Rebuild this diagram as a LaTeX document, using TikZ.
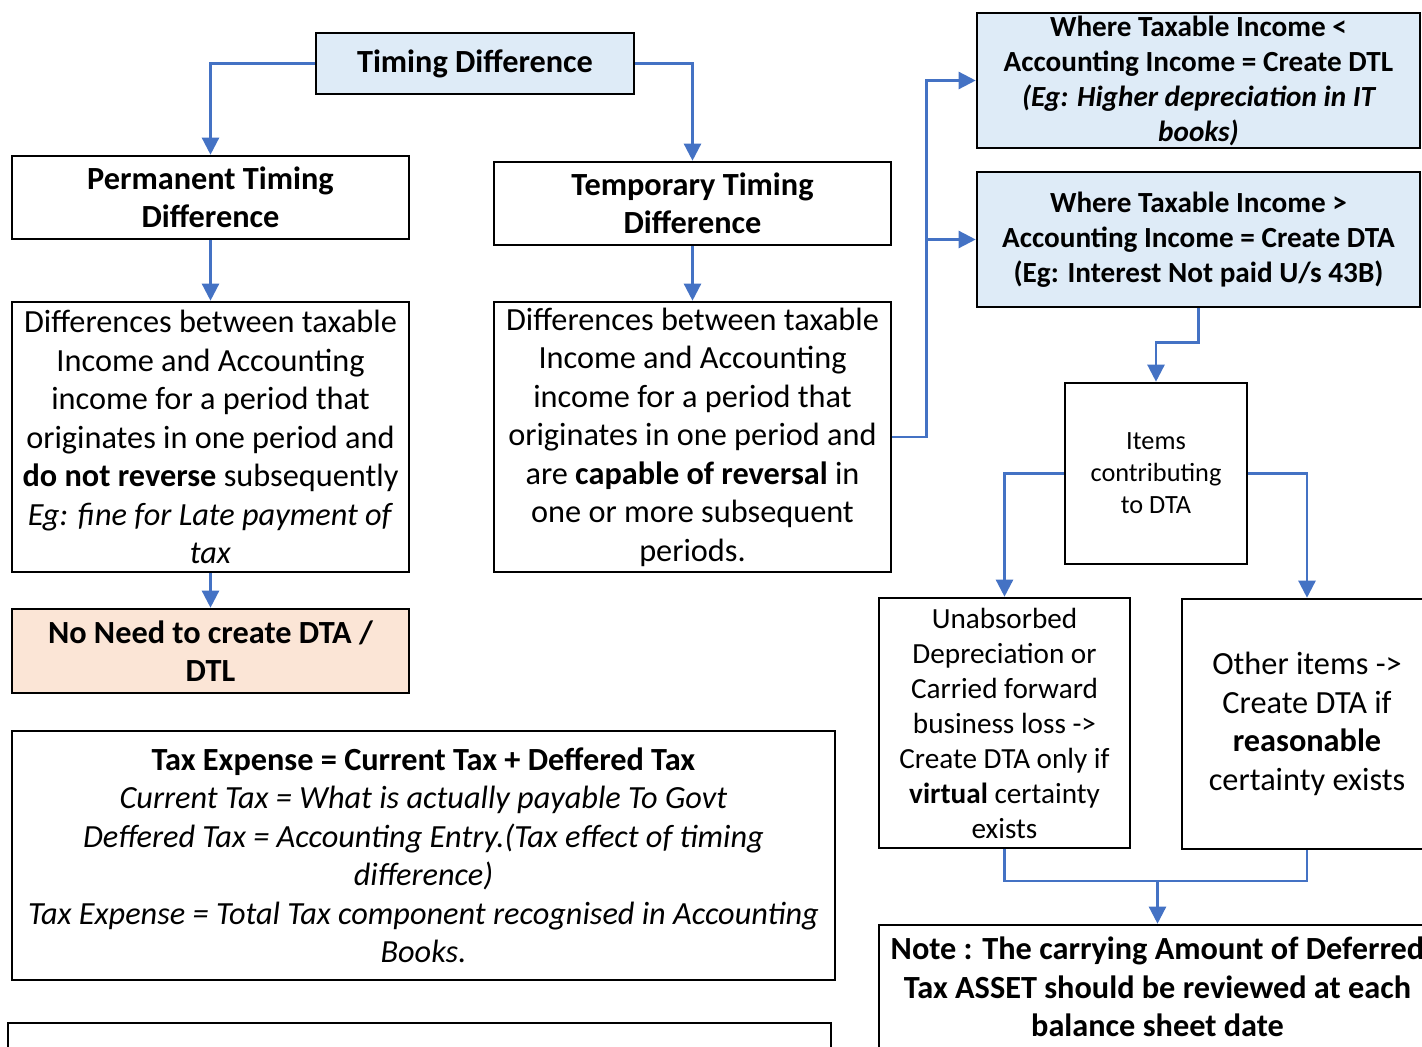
\documentclass[tikz,border=0pt]{standalone}
\usepackage{fontspec}
\setmainfont{Carlito}
\usetikzlibrary{arrows.meta}
\definecolor{linkblue}{HTML}{4472C4}
\definecolor{paleblue}{HTML}{DEEBF7}
\definecolor{peach}{HTML}{FBE5D6}
\tikzset{
  box/.style={draw=black, line width=2.6pt, align=center, inner sep=0pt, rectangle},
  txtL/.style={font=\fontsize{32.3}{38.5}\selectfont},
  txtM/.style={font=\fontsize{29.2}{35}\selectfont},
  txtS/.style={font=\fontsize{26.3}{32}\selectfont},
  wire/.style={draw=linkblue, line width=2.4pt},
  conn/.style={wire, -{Triangle[width=17pt,length=17pt]}},
}
\begin{document}
\begin{tikzpicture}[x=1pt,y=-1pt]
\useasboundingbox (0,0) rectangle (1422,1047);
\clip (0,0) rectangle (1422,1047);

% left column
\node[box, fill=paleblue, txtL, minimum width=318pt, minimum height=61pt] (td) at (475,63.5) {\bfseries Timing Difference};
\node[box, txtL, minimum width=397pt, minimum height=83pt] (perm) at (210.5,197.5) {\bfseries Permanent Timing\\\bfseries Difference};
\node[box, txtL, minimum width=397pt, minimum height=83pt] (temp) at (692.5,203.5) {\bfseries Temporary Timing\\\bfseries Difference};
\node[box, txtL, minimum width=397pt, minimum height=270pt] (permd) at (210.5,437) {Differences between taxable\\Income and Accounting\\income for a period that\\originates in one period and\\\textbf{do not reverse} subsequently\\\textit{Eg: fine for Late payment of}\\\textit{tax}};
\node[box, txtL, minimum width=397pt, minimum height=270pt] (tempd) at (692.5,437) {Differences between taxable\\Income and Accounting\\income for a period that\\originates in one period and\\are \textbf{capable of reversal} in\\one or more subsequent\\periods.};
\node[box, fill=peach, txtL, minimum width=397pt, minimum height=84pt] (noneed) at (210.5,651) {\bfseries No Need to create DTA /\\\bfseries DTL};
\node[box, txtL, minimum width=823pt, minimum height=249pt] (taxexp) at (423.5,855.5) {\textbf{Tax Expense = Current Tax + Deffered Tax}\\\textit{Current Tax = What is actually payable To Govt}\\\textit{Deffered Tax = Accounting Entry.(Tax effect of timing}\\\textit{difference)}\\\textit{Tax Expense = Total Tax component recognised in Accounting}\\\textit{Books.}};
\node[box, minimum width=823pt, minimum height=60pt] (blank) at (419.5,1053) {};

% right column
\node[box, fill=paleblue, txtM, minimum width=443pt, minimum height=135pt] (dtl) at (1198.5,80.5) {\bfseries Where Taxable Income <\\\bfseries Accounting Income = Create DTL\\\bfseries\itshape (Eg: Higher depreciation in IT\\\bfseries\itshape books)};
\node[box, fill=paleblue, txtM, minimum width=443pt, minimum height=135pt] (dta) at (1198.5,239.5) {\bfseries Where Taxable Income >\\\bfseries Accounting Income = Create DTA\\\bfseries (Eg: Interest Not paid U/s 43B)};
\node[box, txtS, minimum width=182pt, minimum height=181pt] (items) at (1156,473.5) {Items\\contributing\\to DTA};
\node[box, txtM, minimum width=251pt, minimum height=250pt] (unabs) at (1004.5,723) {Unabsorbed\\Depreciation or\\Carried forward\\business loss ->\\Create DTA only if\\\textbf{virtual} certainty\\exists};
\node[box, txtL, minimum width=250pt, minimum height=250pt] (other) at (1307,724) {Other items ->\\Create DTA if\\\textbf{reasonable}\\certainty exists};
\node[box, minimum width=557pt, minimum height=160pt] (note) at (1157.5,1005) {};
\node[txtL, align=center, anchor=north, inner sep=0pt] (notetext) at ([yshift=-13pt]note.north) {\bfseries Note : The carrying Amount of Deferred\\\bfseries Tax ASSET should be reviewed at each\\\bfseries balance sheet date};

% connectors
\draw[conn] (td.west) -| (perm.north);
\draw[conn] (td.east) -| (temp.north);
\draw[conn] (perm.south) -- (permd.north);
\draw[conn] (temp.south) -- (tempd.north);
\draw[conn] (permd.south) -- (noneed.north);
\draw[conn] (tempd.east) -- ++(34,0) coordinate (split) |- (dtl.west);
\draw[conn] (split) |- (dta.west);
\draw[conn] (dta.south) -- ++(0,34) coordinate (bend) -| (items.north);
\draw[conn] (items.west) -| (unabs.north);
\draw[conn] (items.east) -| (other.north);
\coordinate (merge) at (1157.5,881);
\draw[wire] (unabs.south) |- (merge) -| (other.south);
\draw[conn] (merge) -- (note.north);
\end{tikzpicture}
\end{document}
